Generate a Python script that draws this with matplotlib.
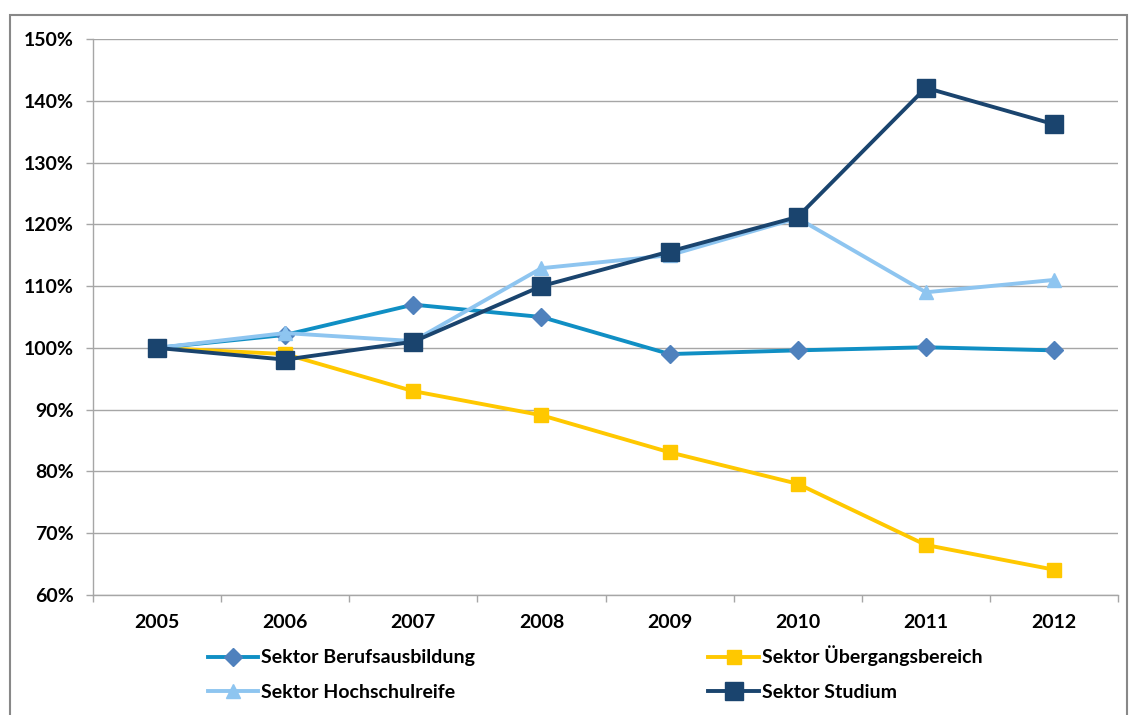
import matplotlib
matplotlib.use("Agg")
import matplotlib.pyplot as plt
from matplotlib.patches import Rectangle
from matplotlib.ticker import FuncFormatter, FixedLocator

years = ["2005", "2006", "2007", "2008", "2009", "2010", "2011", "2012"]
berufsausbildung = [100, 102.1, 107.0, 105.0, 99.0, 99.6, 100.1, 99.6]
uebergang = [100, 99.0, 93.0, 89.1, 83.1, 78.0, 68.1, 64.1]
hochschulreife = [100, 102.4, 101.1, 112.9, 115.0, 121.0, 109.0, 111.0]
studium = [100, 98.1, 101.0, 110.0, 115.6, 121.2, 142.1, 136.2]
labels = ["Sektor Berufsausbildung", "Sektor Übergangsbereich",
          "Sektor Hochschulreife", "Sektor Studium"]

plt.rcParams['font.family'] = ['Lato', 'DejaVu Sans']
plt.rcParams['font.weight'] = 'bold'

FS = 14

fig = plt.figure(figsize=(11.32, 7.15), dpi=100)
ax = fig.add_axes([93/1132, 1-595/715, (1118-93)/1132, (595-39)/715])

x = list(range(len(years)))
l1, = ax.plot(x, berufsausbildung, color="#108FC4", lw=2.8, marker="D", ms=9,
              mfc="#4F81BD", mec="#4F81BD", zorder=4)
l2, = ax.plot(x, uebergang, color="#FFC800", lw=2.8, marker="s", ms=10,
              mfc="#FFC800", mec="#FFC800", zorder=3)
l3, = ax.plot(x, hochschulreife, color="#8EC5F0", lw=2.8, marker="^", ms=10,
              mfc="#8EC5F0", mec="#8EC5F0", zorder=5)
l4, = ax.plot(x, studium, color="#1A446E", lw=2.8, marker="s", ms=13,
              mfc="#1A446E", mec="#1A446E", zorder=6)

ax.set_xlim(-0.5, 7.5)
ax.set_ylim(60, 150)
ax.set_yticks(range(60, 151, 10))
ax.yaxis.set_major_formatter(FuncFormatter(lambda v, p: f"{int(v)}%"))
ax.set_xticks(x)
ax.set_xticklabels(years)
ax.xaxis.set_minor_locator(FixedLocator([i - 0.5 for i in range(len(years) + 1)]))
ax.tick_params(axis='x', which='major', length=0, pad=14, labelsize=FS)
ax.tick_params(axis='x', which='minor', length=5, color="#A6A6A6", width=1)
ax.tick_params(axis='y', length=5, color="#A6A6A6", width=1, pad=9, labelsize=FS)
for t in ax.get_xticklabels() + ax.get_yticklabels():
    t.set_fontweight('bold')

ax.grid(axis='y', color="#A6A6A6", lw=1)
ax.set_axisbelow(True)
for s in ["top", "right"]:
    ax.spines[s].set_visible(False)
for s in ["left", "bottom"]:
    ax.spines[s].set_color("#A6A6A6")
    ax.spines[s].set_linewidth(1)

leg = fig.legend([l1, l3, l2, l4], [labels[0], labels[2], labels[1], labels[3]],
                 ncol=2, loc="upper left", bbox_to_anchor=(190/1132, 1-628/715),
                 frameon=False, columnspacing=12, handlelength=2.6,
                 handletextpad=0.15, labelspacing=0.9,
                 prop={'weight': 'bold', 'size': FS})

fig.patches.append(Rectangle((10/1132, -0.02), (1127-10)/1132, 1-15/715 + 0.02,
                             transform=fig.transFigure, fill=False,
                             edgecolor="#888888", lw=1.5))

fig.savefig("out.png", dpi=100)
